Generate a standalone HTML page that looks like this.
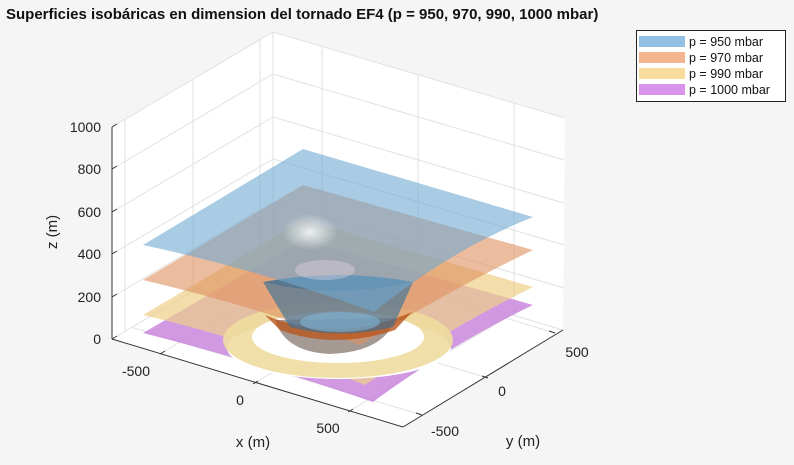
<!DOCTYPE html>
<html><head><meta charset="utf-8"><style>
body{margin:0;background:#f5f5f5;width:794px;height:460px;overflow:hidden;font-family:"Liberation Sans",sans-serif;}
</style></head><body>
<svg width="794" height="460" viewBox="0 0 794 460" xmlns="http://www.w3.org/2000/svg" font-family="Liberation Sans, sans-serif">
<defs>
<radialGradient id="glow" cx="0.5" cy="0.5" r="0.5">
<stop offset="0" stop-color="#fff" stop-opacity="0.8"/>
<stop offset="1" stop-color="#fff" stop-opacity="0"/>
</radialGradient>
</defs>
<text x="6" y="19" font-size="15" font-weight="bold" fill="#111">Superficies isobáricas en dimension del tornado EF4 (p = 950, 970, 990, 1000 mbar)</text>
<polygon points="112,127 273,32 565,118 563,330 403,427 112,339" fill="#fff"/>
<g stroke="#e2e2e2" stroke-width="1" fill="none">
<line x1="273" y1="32" x2="273" y2="244"/>
<line x1="112" y1="339" x2="273" y2="244"/><line x1="273" y1="244" x2="563" y2="330"/>
<line x1="112" y1="297" x2="273" y2="202"/><line x1="273" y1="202" x2="564" y2="288"/>
<line x1="112" y1="254" x2="273" y2="159"/><line x1="273" y1="159" x2="564" y2="245"/>
<line x1="112" y1="212" x2="273" y2="117"/><line x1="273" y1="117" x2="564" y2="203"/>
<line x1="112" y1="169" x2="273" y2="74"/><line x1="273" y1="74" x2="564" y2="160"/>
<line x1="112" y1="127" x2="273" y2="32"/><line x1="273" y1="32" x2="565" y2="118"/>
<line x1="125" y1="119" x2="125" y2="331"/><line x1="193" y1="80" x2="193" y2="291"/><line x1="260" y1="40" x2="260" y2="252"/>
<line x1="322" y1="46" x2="322" y2="258"/><line x1="418" y1="75" x2="418" y2="287"/><line x1="514" y1="103" x2="514" y2="315"/>
<line x1="160" y1="354" x2="321" y2="258"/><line x1="253" y1="384" x2="414" y2="288"/><line x1="348" y1="412" x2="509" y2="316"/>
<line x1="422" y1="415" x2="131" y2="327"/><line x1="488" y1="378" x2="197" y2="290"/><line x1="555" y1="333" x2="264" y2="245"/>
</g>
<!-- purple 1000 -->
<path d="M143,333 L303,240 L533,305 Q450,345 373,402 Q250,360 143,333 Z" fill="#c77fdc" opacity="0.8"/>
<!-- yellow 990 -->
<path d="M143,315 L303,220 L533,287 Q455,325 365,385 Q250,340 143,315 Z" fill="#edcf87" opacity="0.7"/>
<ellipse cx="339" cy="348" rx="112" ry="31" fill="#fff"/>
<path fill-rule="evenodd" fill="#eedb9e" opacity="0.9" d="M223,340 A115,38 0 1,0 453,340 A115,38 0 1,0 223,340 Z M252,337 A86,26 0 1,0 424,337 A86,26 0 1,0 252,337 Z"/>
<ellipse cx="338" cy="337" rx="86" ry="26" fill="#fff"/>
<!-- bowl -->
<path d="M275,320 Q285,352 330,354 Q385,352 395,318 Z" fill="#8f7f78" opacity="0.8"/>
<!-- orange 970 -->
<path d="M143,280 L303,185 L533,250 Q450,290 360,345 Q250,305 143,280 Z" fill="#e08f5f" opacity="0.6"/>
<path d="M265,315 Q335,345 412,312 L395,330 Q335,350 280,330 Z" fill="#b8561e" opacity="0.8"/>
<!-- funnel -->
<path d="M263,282 Q335,300 413,282 L393,327 Q340,340 290,327 Z" fill="#2f6f9c" opacity="0.6"/>
<path d="M263,282 Q335,300 413,282 Q340,268 263,282 Z" fill="#2a6a98" opacity="0.75"/>
<ellipse cx="340" cy="322" rx="40" ry="10" fill="#7fb4d6" opacity="0.6"/>
<!-- blue 950 -->
<path d="M143,245 L303,149 L533,217 Q450,250 374,312 Q260,270 143,245 Z" fill="#6fa8d0" opacity="0.6"/>
<ellipse cx="310" cy="232" rx="28" ry="18" fill="url(#glow)"/>
<ellipse cx="325" cy="270" rx="30" ry="10" fill="#f0dcea" opacity="0.35"/>
<!-- axes -->
<g stroke="#333" stroke-width="1" fill="none">
<line x1="112" y1="127" x2="112" y2="339"/>
<line x1="112" y1="339" x2="403" y2="427"/>
<line x1="403" y1="427" x2="563" y2="330"/>
<line x1="112" y1="339" x2="117" y2="336"/><line x1="112" y1="297" x2="117" y2="294"/><line x1="112" y1="254" x2="117" y2="251"/><line x1="112" y1="212" x2="117" y2="209"/><line x1="112" y1="169" x2="117" y2="166"/><line x1="112" y1="127" x2="117" y2="124"/>
<line x1="160" y1="354" x2="165" y2="351"/><line x1="253" y1="384" x2="258" y2="381"/><line x1="348" y1="412" x2="353" y2="409"/>
<line x1="422" y1="415" x2="416" y2="413"/><line x1="488" y1="378" x2="482" y2="376"/><line x1="555" y1="333" x2="549" y2="331"/>
</g>
<g font-size="14" fill="#222" text-anchor="end">
<text x="101" y="344">0</text><text x="101" y="302">200</text><text x="101" y="259">400</text><text x="101" y="217">600</text><text x="101" y="174">800</text><text x="101" y="132">1000</text>
</g>
<g font-size="14" fill="#222" text-anchor="middle">
<text x="136" y="376">-500</text><text x="240" y="405">0</text><text x="328" y="433">500</text>
<text x="445" y="436">-500</text><text x="502" y="396">0</text><text x="577" y="357">500</text>
<text x="253" y="447" font-size="15">x (m)</text><text x="523" y="446" font-size="15">y (m)</text>
<text transform="translate(57,232) rotate(-90)" font-size="15">z (m)</text>
</g>
<!-- legend -->
<rect x="636.5" y="30.5" width="149" height="71" fill="#fff" stroke="#222"/>
<rect x="639" y="36" width="46" height="11" fill="#93bfe3"/>
<rect x="639" y="52" width="46" height="11" fill="#f4b490"/>
<rect x="639" y="68" width="46" height="11" fill="#f8dd9c"/>
<rect x="639" y="84" width="46" height="11" fill="#da93ea"/>
<g font-size="12.5" fill="#111">
<text x="689" y="46">p = 950 mbar</text><text x="689" y="62">p = 970 mbar</text><text x="689" y="78">p = 990 mbar</text><text x="689" y="94">p = 1000 mbar</text>
</g>
</svg>
</body></html>
